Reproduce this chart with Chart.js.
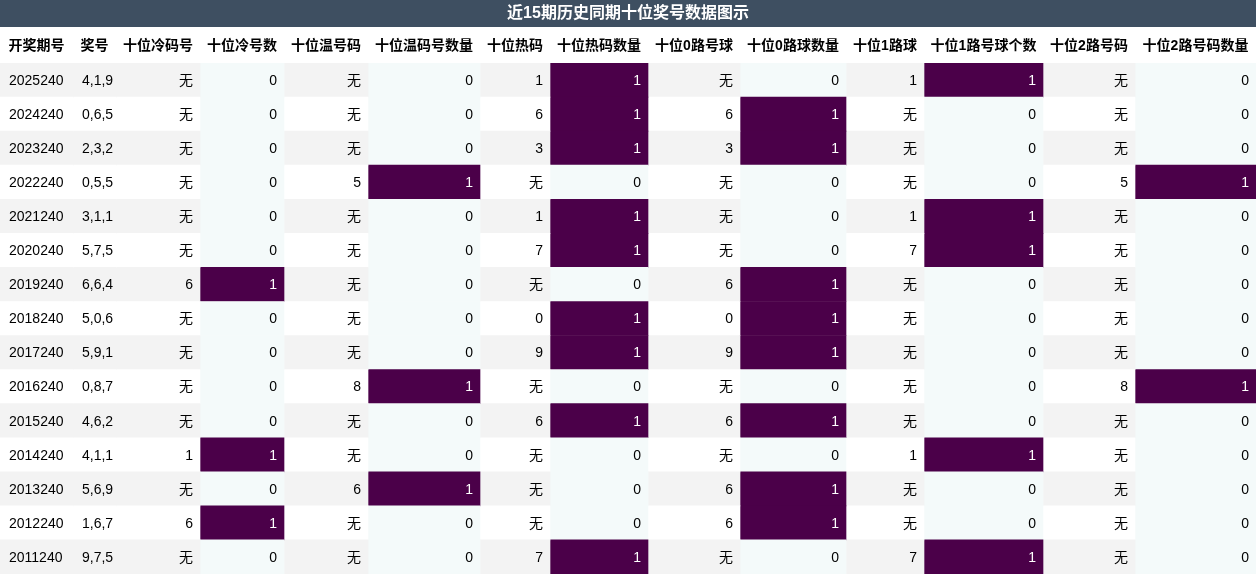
<!DOCTYPE html>
<html><head><meta charset="utf-8">
<script src="https://cdn.jsdelivr.net/npm/chart.js@4"></script>
<style>html,body{margin:0;padding:0;background:#fff}canvas{display:block}</style>
</head><body><canvas id="c" width="1256" height="574"></canvas>
<script>
const title = '近15期历史同期十位奖号数据图示';
const headers = ['开奖期号','奖号','十位冷码号','十位冷号数','十位温号码','十位温码号数量','十位热码','十位热码数量','十位0路号球','十位0路球数量','十位1路球','十位1路号球个数','十位2路号码','十位2路号码数量'];
const periods = ['2025240','2024240','2023240','2022240','2021240','2020240','2019240','2018240','2017240','2016240','2015240','2014240','2013240','2012240','2011240'];
const numbers = ['4,1,9','0,6,5','2,3,2','0,5,5','3,1,1','5,7,5','6,6,4','5,0,6','5,9,1','0,8,7','4,6,2','4,1,1','5,6,9','1,6,7','9,7,5'];
const coldCode = ['无','无','无','无','无','无','6','无','无','无','无','1','无','6','无'];
const coldCount = [0,0,0,0,0,0,1,0,0,0,0,1,0,1,0];
const warmCode = ['无','无','无','5','无','无','无','无','无','8','无','无','6','无','无'];
const warmCount = [0,0,0,1,0,0,0,0,0,1,0,0,1,0,0];
const hotCode = ['1','6','3','无','1','7','无','0','9','无','6','无','无','无','7'];
const hotCount = [1,1,1,0,1,1,0,1,1,0,1,0,0,0,1];
const road0Code = ['无','6','3','无','无','无','6','0','9','无','6','无','6','6','无'];
const road0Count = [0,1,1,0,0,0,1,1,1,0,1,0,1,1,0];
const road1Code = ['1','无','无','无','1','7','无','无','无','无','无','1','无','无','7'];
const road1Count = [1,0,0,0,1,1,0,0,0,0,0,1,0,0,1];
const road2Code = ['无','无','无','5','无','无','无','无','无','8','无','无','无','无','无'];
const road2Count = [0,0,0,1,0,0,0,0,0,1,0,0,0,0,0];

const columns = [periods,numbers,coldCode,coldCount,warmCode,warmCount,hotCode,hotCount,road0Code,road0Count,road1Code,road1Count,road2Code,road2Count];
const colWidths = [73,43,84,84,84,112,70,98,92,106,78,119,92,121];
const isCount = [false,false,false,true,false,true,false,true,false,true,false,true,false,true];
const PURPLE='#4b0049', AZURE='#f4fafa', GRAY='#f3f3f3';

function cellColor(ci, ri){
  if(isCount[ci]) return columns[ci][ri]===1 ? PURPLE : AZURE;
  return ri%2===0 ? GRAY : '#ffffff';
}
const datasets = columns.map((col,ci)=>({
  data: periods.map(()=>colWidths[ci]),
  backgroundColor: periods.map((_,ri)=>cellColor(ci,ri)),
  borderWidth:0, categoryPercentage:1, barPercentage:1
}));

const CN='"Liberation Sans","Noto Sans CJK SC",Arial,sans-serif';
const textPlugin = {
  id:'txt',
  afterDatasetsDraw(chart){
    const ctx=chart.ctx; ctx.save();
    // title
    ctx.fillStyle='#3e4f61'; ctx.fillRect(0,0,1256,27);
    ctx.fillStyle='#fff'; ctx.font='bold 16px '+CN; ctx.textAlign='center'; ctx.textBaseline='middle';
    ctx.fillText(title,628,14);
    ctx.font='bold 14px '+CN; ctx.fillStyle='#000';
    chart.data.datasets.forEach((ds,ci)=>{
      const meta=chart.getDatasetMeta(ci);
      const b0=meta.data[0];
      const left=Math.min(b0.x,b0.base), right=Math.max(b0.x,b0.base);
      ctx.textAlign='center'; ctx.fillStyle='#000'; ctx.font='bold 14px '+CN;
      ctx.fillText(headers[ci],(left+right)/2,46);
      ctx.font='14px '+CN;
      meta.data.forEach((el,ri)=>{
        const l=Math.min(el.x,el.base), r=Math.max(el.x,el.base);
        const v=columns[ci][ri];
        ctx.fillStyle = (isCount[ci]&&v===1)?'#fff':'#000';
        if(ci<2){ctx.textAlign='left';ctx.fillText(String(v),l+9,el.y+1);}
        else {ctx.textAlign='right';ctx.fillText(String(v),r-7,el.y+1);}
      });
    });
    ctx.restore();
  }
};

new Chart(document.getElementById('c'),{
  type:'bar',
  data:{labels:periods,datasets},
  options:{
    indexAxis:'y', responsive:false, animation:false, devicePixelRatio:1,
    layout:{padding:{top:63,left:0,right:0,bottom:0}},
    plugins:{legend:{display:false},tooltip:{enabled:false}},
    scales:{
      x:{stacked:true,min:0,max:1256,display:false},
      y:{stacked:true,display:false,offset:true}
    }
  },
  plugins:[textPlugin]
});
</script></body></html>
